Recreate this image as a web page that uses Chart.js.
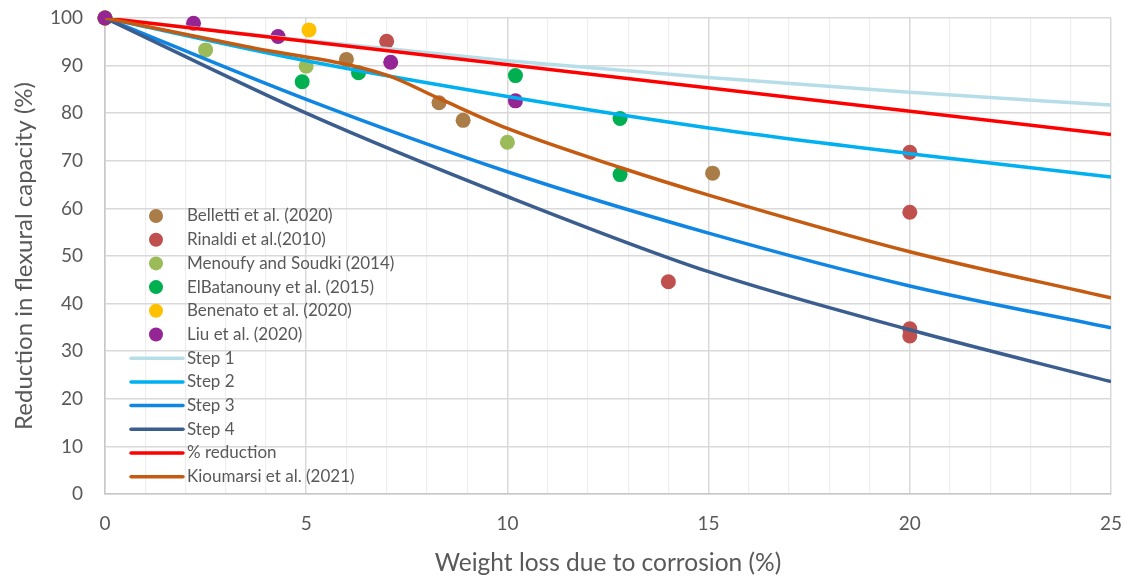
<!DOCTYPE html>
<html>
<head>
<meta charset="utf-8">
<script src="https://cdn.jsdelivr.net/npm/chart.js@4/dist/chart.umd.min.js"></script>
<style>
  html, body { margin: 0; padding: 0; background: #fff; }
  #wrap { width: 1129px; height: 578px; }
</style>
</head>
<body>
<div id="wrap"><canvas id="flexuralChart"></canvas></div>
<script>
// measured test results: weight loss (%) vs remaining flexural capacity (%)
const bellettiX = [0, 6.0, 8.3, 8.9, 15.1];
const bellettiY = [100, 91.3, 82.2, 78.5, 67.4];
const rinaldiX = [0, 7.0, 14.0, 20.0, 20.0, 20.0, 20.0];
const rinaldiY = [100, 95.1, 44.6, 71.8, 59.2, 34.7, 33.2];
const menoufyX = [0, 2.5, 5.0, 10.0];
const menoufyY = [100, 93.3, 89.9, 73.9];
const elbatanounyX = [0, 4.9, 6.3, 10.2, 12.8, 12.8];
const elbatanounyY = [100, 86.6, 88.5, 87.9, 78.9, 67.1];
const benenatoX = [0, 5.07];
const benenatoY = [100, 97.5];
const liuX = [0, 2.2, 4.3, 7.1, 10.2];
const liuY = [100, 98.9, 96.1, 90.7, 82.6];

// model curves
const stepX = [0, 5, 10, 15, 20, 25];
const step1Y = [100, 95.3, 91.0, 87.5, 84.4, 81.7];
const step2Y = [100, 91.0, 83.5, 76.9, 71.5, 66.6];
const step3Y = [100, 82.9, 67.7, 54.8, 43.7, 34.9];
const step4Y = [100, 80.0, 62.5, 46.7, 34.5, 23.6];
const reductionX = [0, 25];
const reductionY = [100, 75.5];
const kioumarsiX = [0, 3.5, 7, 8.3, 10, 12.8, 15, 20, 25];
const kioumarsiY = [100, 94.0, 88.0, 83.1, 76.8, 68.6, 62.8, 50.9, 41.2];

const xTicks = [0, 5, 10, 15, 20, 25];

const pts = (xs, ys) => xs.map((x, i) => ({ x: x, y: ys[i] }));

const textColor = '#595959';
const fontFamily = 'Lato, "Open Sans", sans-serif';

function dots(label, xs, ys, color) {
  return {
    type: 'scatter',
    label: label,
    data: pts(xs, ys),
    backgroundColor: color,
    borderColor: color,
    pointRadius: 7.5,
    pointBorderWidth: 0,
    showLine: false,
    clip: false,
  };
}

function curve(label, xs, ys, color, smooth) {
  return {
    type: 'line',
    label: label,
    data: pts(xs, ys),
    borderColor: color,
    backgroundColor: color,
    borderWidth: 3.5,
    pointRadius: 0,
    fill: false,
    cubicInterpolationMode: smooth ? 'monotone' : 'default',
    tension: 0,
  };
}

const datasets = [
  dots('Belletti et al. (2020)', bellettiX, bellettiY, '#A97C48'),
  dots('Rinaldi et al.(2010)', rinaldiX, rinaldiY, '#C0504D'),
  dots('Menoufy and Soudki (2014)', menoufyX, menoufyY, '#9BBB59'),
  dots('ElBatanouny et al. (2015)', elbatanounyX, elbatanounyY, '#00B050'),
  dots('Benenato et al. (2020)', benenatoX, benenatoY, '#FFC000'),
  dots('Liu et al. (2020)', liuX, liuY, '#952594'),
  curve('Step 1', stepX, step1Y, '#B7DEE8', true),
  curve('Step 2', stepX, step2Y, '#00B0F0', true),
  curve('Step 3', stepX, step3Y, '#0F86E3', true),
  curve('Step 4', stepX, step4Y, '#3B5E8E', true),
  curve('% reduction', reductionX, reductionY, '#FF0000', false),
  curve('Kioumarsi et al. (2021)', kioumarsiX, kioumarsiY, '#C55A11', true),
];
// later series are painted over earlier ones
datasets.forEach((d, i) => { d.order = datasets.length - i; });

// legend sits inside the plot, lower left, transparent over the grid
const insideLegend = {
  id: 'insideLegend',
  afterDraw(chart) {
    const { ctx, chartArea } = chart;
    const left = chartArea.left + 25;
    const top = chartArea.top + 198;
    const rowH = 23.7;
    ctx.save();
    ctx.font = '17px ' + fontFamily;
    ctx.textBaseline = 'middle';
    ctx.textAlign = 'left';
    chart.data.datasets.forEach((d, i) => {
      const y = top + i * rowH;
      if (d.type === 'scatter') {
        ctx.fillStyle = d.backgroundColor;
        ctx.beginPath();
        ctx.arc(left + 26, y, 7, 0, Math.PI * 2);
        ctx.fill();
      } else {
        ctx.strokeStyle = d.borderColor;
        ctx.lineWidth = 3.5;
        ctx.lineCap = 'round';
        ctx.beginPath();
        ctx.moveTo(left + 1, y);
        ctx.lineTo(left + 53, y);
        ctx.stroke();
      }
      ctx.fillStyle = textColor;
      ctx.fillText(d.label, left + 57, y);
    });
    ctx.restore();
  }
};

const ctx = document.getElementById('flexuralChart').getContext('2d');
new Chart(ctx, {
  type: 'scatter',
  data: { datasets: datasets },
  plugins: [insideLegend],
  options: {
    animation: false,
    responsive: true,
    maintainAspectRatio: false,
    layout: { autoPadding: false, padding: { top: 18, right: 18, left: 0, bottom: 0 } },
    plugins: {
      legend: { display: false },
      tooltip: { enabled: false },
    },
    scales: {
      x: {
        type: 'linear',
        min: 0,
        max: 25,
        afterFit: (s) => {
          s.height = 84;
          s.paddingLeft = 0;
          s.paddingRight = 0;
        },
        afterBuildTicks: (s) => {
          const t = [];
          for (let v = 0; v <= 25; v++) t.push({ value: v });
          s.ticks = t;
        },
        ticks: {
          autoSkip: false,
          maxRotation: 0,
          padding: 18,
          color: textColor,
          font: { family: fontFamily, size: 19 },
          callback: (v) => (xTicks.includes(v) ? String(v) : ''),
        },
        grid: {
          drawTicks: false,
          color: (c) => (c.tick && c.tick.value % 5 === 0 ? '#D9D9D9' : '#EEEEEE'),
          lineWidth: (c) => (c.tick && c.tick.value % 5 === 0 ? 1.5 : 1.2),
        },
        border: { color: '#C8C8C8', width: 1.5 },
        title: {
          display: true,
          text: 'Weight loss due to corrosion (%)',
          color: textColor,
          font: { family: fontFamily, size: 24.5 },
          padding: { top: 0, bottom: 0 },
        },
      },
      y: {
        min: 0,
        max: 100,
        afterFit: (s) => {
          s.width = 105;
          s.paddingTop = 0;
          s.paddingBottom = 0;
        },
        ticks: {
          stepSize: 10,
          padding: 22,
          color: textColor,
          font: { family: fontFamily, size: 19 },
        },
        grid: {
          drawTicks: false,
          color: '#D9D9D9',
          lineWidth: 1.5,
        },
        border: { color: '#C8C8C8', width: 1.5 },
        title: {
          display: true,
          text: 'Reduction in flexural capacity (%)',
          color: textColor,
          font: { family: fontFamily, size: 24 },
          padding: { top: 10, bottom: 0 },
        },
      },
    },
  },
});
</script>
</body>
</html>
